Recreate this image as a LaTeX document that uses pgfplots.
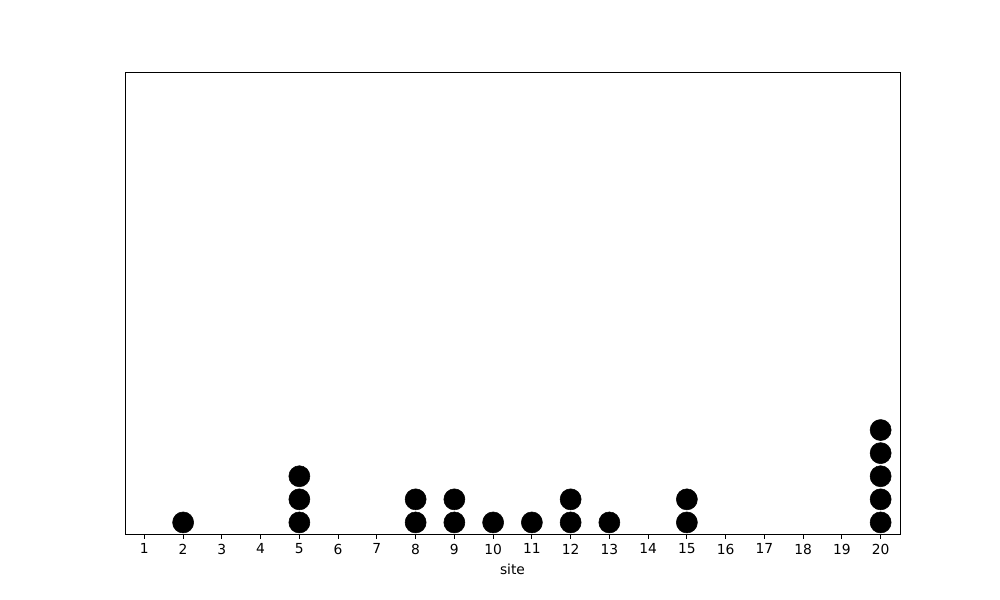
\documentclass[border=0pt]{standalone}
\usepackage{pgfplots}
\pgfplotsset{compat=1.18}
\usepackage{fontspec}
\setmainfont{DejaVu Sans}
\begin{document}
\begin{tikzpicture}
\path[use as bounding box] (-1.25in,-0.66in) rectangle (8.75in,5.34in);
\begin{axis}[
  at={(0,0)}, anchor=south west,
  scale only axis, width=7.75in, height=4.62in,
  xmin=0.5, xmax=20.5, ymin=0.5, ymax=20.5,
  xtick={1,...,20}, ytick=\empty,
  tick align=outside, major tick length=3.5pt,
  xtick pos=bottom,
  tick style={black, line width=0.6pt},
  axis line style={line width=0.6pt},
  every tick label/.append style={font=\fontsize{10}{12}\selectfont},
  /pgf/number format/assume math mode=true,
  xlabel={site}, xlabel style={font=\fontsize{10}{12}\selectfont},
  clip=false,
]
\addplot[only marks, mark=*, mark size=7.6pt, black] coordinates {
(2,1)
(5,1) (5,2) (5,3)
(8,1) (8,2)
(9,1) (9,2)
(10,1)
(11,1)
(12,1) (12,2)
(13,1)
(15,1) (15,2)
(20,1) (20,2) (20,3) (20,4) (20,5)
};
\end{axis}
\end{tikzpicture}
\end{document}
